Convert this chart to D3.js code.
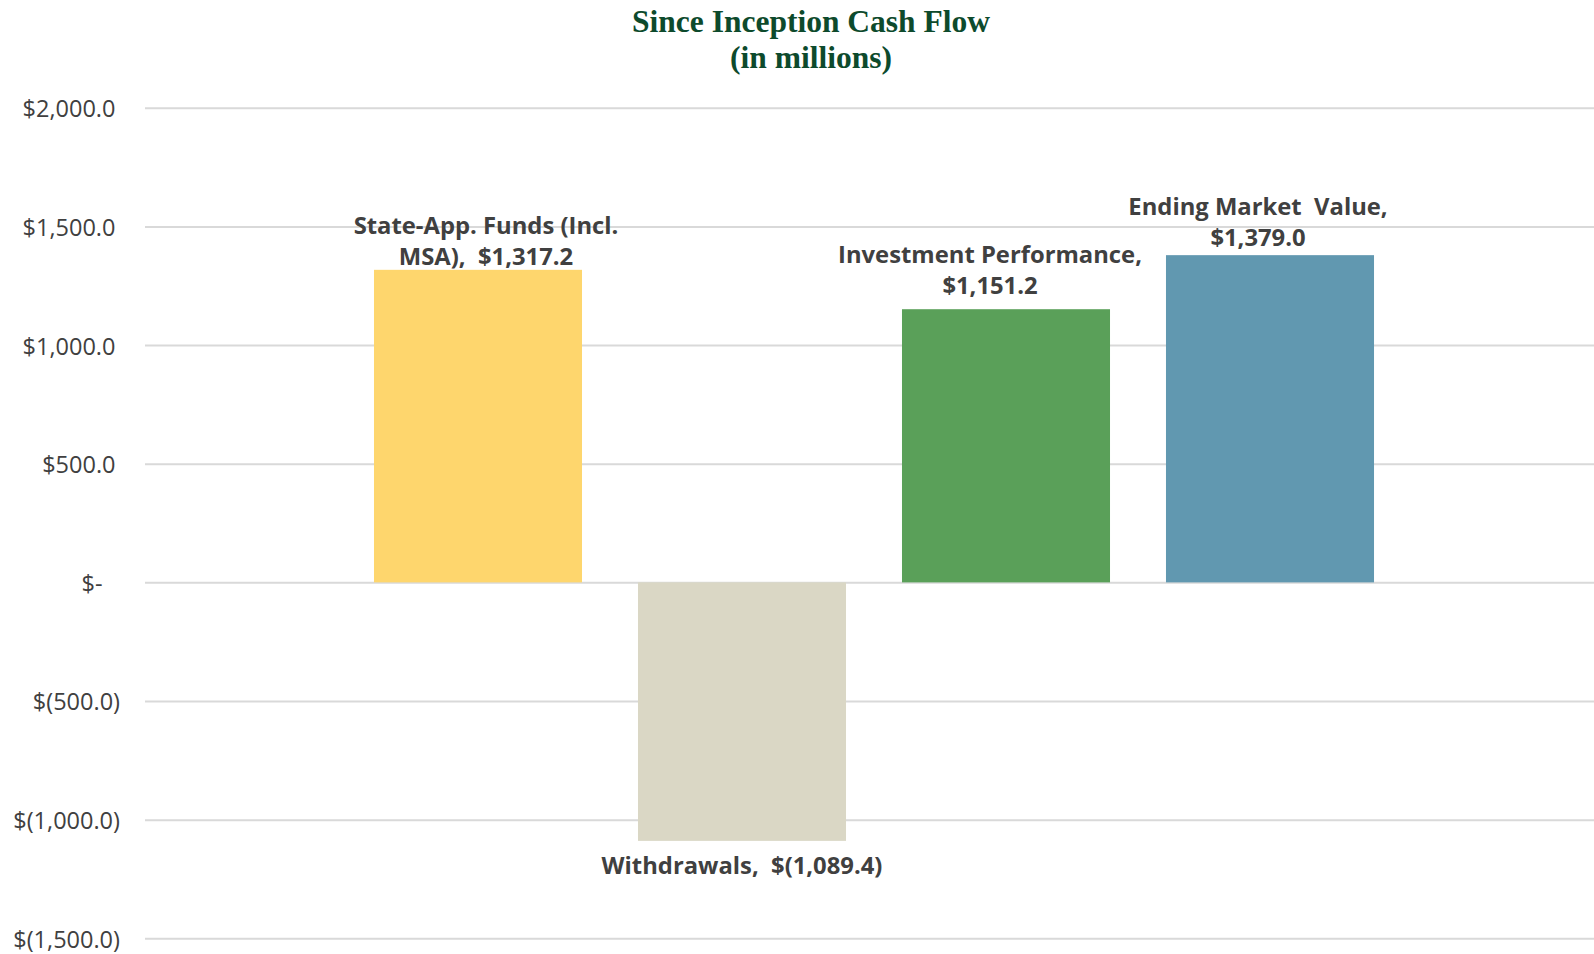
<!DOCTYPE html>
<html>
<head>
<meta charset="utf-8">
<script src="https://cdn.jsdelivr.net/npm/d3@7"></script>
<style>
  html, body { margin: 0; padding: 0; background: #ffffff; }
  svg { display: block; }
  text { white-space: pre; }
</style>
</head>
<body>
<svg id="chart" width="1594" height="954"></svg>
<script>
// Cash flow components since inception (USD millions)
const categories = ["State-App. Funds", "Withdrawals", "Investment Performance", "Ending Market Value"];
const values = [1317.2, -1089.4, 1151.2, 1379.0];
// Data label text (category part), split into lines as displayed
const labelNames = [
  ["State-App. Funds (Incl.", "MSA),  "],
  ["Withdrawals,  "],
  ["Investment Performance,", ""],
  ["Ending Market  Value,", ""]
];
const barColors = ["#FED66D", "#DAD7C5", "#5AA059", "#6198B0"];
const tickValues = [-1500, -1000, -500, 0, 500, 1000, 1500, 2000];
const titleLines = ["Since Inception Cash Flow", "(in millions)"];

// Label placement tweaks: horizontal shift and gap from the bar end
const labelDx = [8, 0, -16, -12];
const labelGap = [4.5, 33, 15, 9];

const W = 1594, H = 954;
const plotLeft = 145, plotRight = 1594;

const svg = d3.select("#chart");

const x = d3.scaleBand()
  .domain(categories)
  .range([346, 1402])
  .paddingInner(0.212)
  .paddingOuter(0.106);

const y = d3.scaleLinear()
  .domain([-1500, 2000])
  .range([938.3, 107.8]);

const num = d3.format(",.1f");
function money(v) {
  if (v === 0) return "$-";
  return v < 0 ? "$(" + num(-v) + ")" : "$" + num(v);
}

// Value axis with gridlines (accounting-style alignment of the labels)
const yAxis = d3.axisLeft(y)
  .tickValues(tickValues)
  .tickFormat(money)
  .tickSizeInner(-(plotRight - plotLeft))
  .tickSizeOuter(0)
  .tickPadding(29.5);

const gy = svg.append("g")
  .attr("transform", `translate(${plotLeft},0)`)
  .call(yAxis);
gy.select(".domain").remove();
gy.selectAll(".tick line")
  .attr("stroke", "#D9D9D9")
  .attr("stroke-width", 2);
gy.selectAll(".tick text")
  .attr("fill", "#404040")
  .attr("font-family", "'Open Sans', sans-serif")
  .attr("font-size", 23.5)
  .attr("dy", "0.38em")
  .attr("dx", d => d < 0 ? 4.5 : (d === 0 ? -13 : 0));

// Bars
svg.append("g")
  .selectAll("rect")
  .data(values)
  .join("rect")
  .attr("x", (d, i) => x(categories[i]))
  .attr("width", x.bandwidth())
  .attr("y", d => y(Math.max(0, d)))
  .attr("height", d => Math.abs(y(d) - y(0)))
  .attr("fill", (d, i) => barColors[i]);

// Data labels: category name and value
const lineH = 31.5;
const labels = svg.append("g")
  .attr("font-family", "'Open Sans', sans-serif")
  .attr("font-weight", 700)
  .attr("font-size", 23.8)
  .attr("fill", "#404040")
  .attr("text-anchor", "middle");

values.forEach((v, i) => {
  const lines = labelNames[i].slice();
  lines[lines.length - 1] = lines[lines.length - 1] + money(v);
  const cx = x(categories[i]) + x.bandwidth() / 2 + labelDx[i];
  let baseLast;
  if (v >= 0) {
    baseLast = y(v) - labelGap[i];
  } else {
    baseLast = y(v) + labelGap[i] + (lines.length - 1) * lineH;
  }
  lines.forEach((t, j) => {
    labels.append("text")
      .attr("x", cx)
      .attr("y", baseLast - (lines.length - 1 - j) * lineH)
      .text(t);
  });
});

// Title
const title = svg.append("g")
  .attr("font-family", "'Liberation Serif', 'Times New Roman', serif")
  .attr("font-weight", 700)
  .attr("font-size", 31.5)
  .attr("fill", "#0D4A2C")
  .attr("text-anchor", "middle");
titleLines.forEach((t, j) => {
  title.append("text")
    .attr("x", 811)
    .attr("y", 32 + j * 36)
    .text(t);
});
</script>
</body>
</html>
